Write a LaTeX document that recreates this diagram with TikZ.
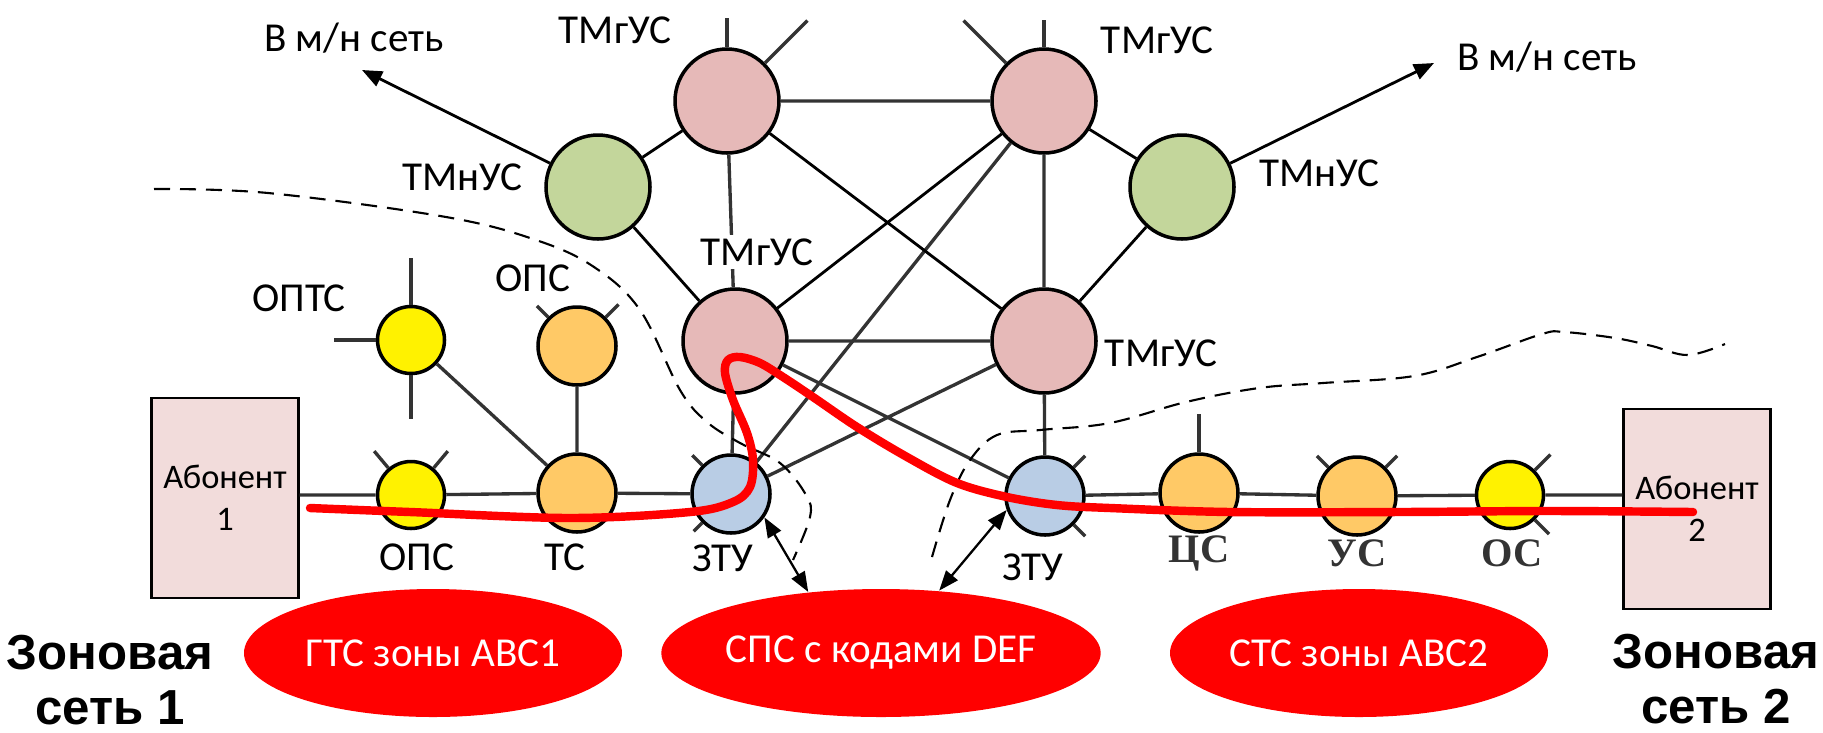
\documentclass[tikz,border=0pt]{standalone}
\usepackage{fontspec}
\setmainfont{Carlito}
\newfontfamily\zonefont{Liberation Sans}
\newfontfamily\scanfont{Liberation Serif}
\usetikzlibrary{shapes.geometric,arrows.meta}
\definecolor{pinkus}{HTML}{E6B9B8}
\definecolor{greenus}{HTML}{C3D69B}
\definecolor{orangeus}{HTML}{FFC966}
\definecolor{blueus}{HTML}{B9CDE5}
\definecolor{boxpink}{HTML}{F2DCDB}
\tikzset{
    st/.style={circle, draw, line width=1pt, inner sep=0pt},
    bignode/.style={st, minimum size=10.4mm},
    midnode/.style={st, minimum size=7.8mm},
    smlnode/.style={st, minimum size=6.7mm},
    scan/.style={black!80, line width=0.95pt},
    wire/.style={black, line width=0.8pt},
    tip/.style={-{Triangle[length=2mm,width=1.6mm]}},
    dbl/.style={{Triangle[length=2mm,width=1.5mm]}-{Triangle[length=2mm,width=1.5mm]}, line width=0.65pt},
    border/.style={dash pattern=on 1.6mm off 1mm, line width=0.6pt},
    zonell/.style={ellipse, fill=red, text=white, minimum width=37.8mm, minimum height=12.8mm, inner sep=0pt},
    abon/.style={draw, fill=boxpink, line width=0.75pt, minimum width=13.8mm, minimum height=20mm,
        align=center, font=\fontsize{9.8}{12}\selectfont},
    oldlbl/.style={font=\scanfont\bfseries\fontsize{11.5}{13}\selectfont, text=black!80},
    zonetxt/.style={align=center, font=\zonefont\bfseries\fontsize{14}{15.6}\selectfont},
}
\begin{document}
\begin{tikzpicture}[x=0.1mm, y=0.1mm, font=\fontsize{11.7}{14}\selectfont]
    \useasboundingbox (0,0) rectangle (1823,-732);
    % upper level
    \node[bignode, fill=pinkus] (pTL) at (727,-101) {};
    \node[bignode, fill=pinkus] (pTR) at (1044,-101) {};
    \node[bignode, fill=pinkus] (pML) at (735,-341) {};
    \node[bignode, fill=pinkus] (pMR) at (1044,-341) {};
    \node[bignode, fill=greenus] (gL) at (598,-187) {};
    \node[bignode, fill=greenus] (gR) at (1182,-187) {};
    \coordinate (mnL) at (362,-70);
    \coordinate (mnR) at (1434,-63);
    % lower level
    \node[smlnode, fill=yellow] (opts) at (411,-340) {};
    \node[midnode, fill=orangeus] (opsU) at (577,-346) {};
    \node[smlnode, fill=yellow] (opsB) at (411,-495) {};
    \node[midnode, fill=orangeus] (ts) at (577,-493) {};
    \node[midnode, fill=blueus] (ztuL) at (731,-494) {};
    \node[midnode, fill=blueus] (ztuR) at (1045,-496) {};
    \node[midnode, fill=orangeus] (cs) at (1199,-493) {};
    \node[midnode, fill=orangeus] (us) at (1357,-496) {};
    \node[smlnode, fill=yellow] (os) at (1510,-495) {};
    \node[abon] (ab1) at (225,-498) {Абонент\\1};
    \node[abon] (ab2) at (1697,-509) {Абонент\\2};
    \node[zonell] (gts) at (433,-653) {ГТС зоны АВС1};
    \node[zonell] (sps) at (881,-653) {СПС с кодами DEF};
    \node[zonell] (sts) at (1359,-653) {СТС зоны АВС2};

    % old scheme lines
    \draw[scan] (pTL) -- (pTR) (pML) -- (pMR) (pTL) -- (pML) (pTR) -- (pMR);
    \draw[scan] (pML) -- (ztuL) (pMR) -- (ztuR) (pTR) -- (ztuL) (pMR) -- (ztuL) (pML) -- (ztuR);
    \draw[scan] (opts) -- (ts) (opsU) -- (ts);
    \draw[scan] (ab1.east |- opsB) -- (opsB) -- (ts) -- (ztuL);
    \draw[scan] (ztuR) -- (cs) -- (us) -- (os) -- (os -| ab2.west);
    \foreach \n/\a/\l in {pTL/90/29, pTL/45/60, pTR/90/27, pTR/135/60,
        opts/90/47, opts/180/42, opts/270/44, opsU/135/16, opsU/45/18,
        opsB/130/22, opsB/50/22, ztuL/135/14, ztuL/225/12, ztuR/45/16, ztuR/-45/16,
        cs/90/38, us/135/16, us/45/16, os/45/22, os/-45/20}
        \draw[scan] (\n.\a) -- ++(\a:\l);

    % new lines
    \draw[wire] (gL) -- (pTL) (gL) -- (pML) (pTL) -- (pMR) (pTR) -- (pML)
        (gR) -- (pTR) (gR) -- (pMR);
    \draw[wire, tip] (gL) -- (mnL);
    \draw[wire, tip] (gR) -- (mnR);

    % zone borders
    \draw[border] plot[smooth, tension=0.6] coordinates {(154,-189) (268,-193) (446,-217)
        (536,-240) (594,-267) (640,-310) (680,-390) (707,-422) (740,-443) (780,-463)
        (806,-495) (810,-517) (793,-560)};
    \draw[border] plot[smooth, tension=0.6] coordinates {(932,-557) (950,-500) (970,-460)
        (997,-435) (1040,-430) (1110,-423) (1186,-402) (1259,-388) (1323,-383) (1414,-376)
        (1477,-357) (1542,-334) (1564,-332) (1615,-338) (1652,-346) (1688,-355) (1725,-344)};

    \draw[dbl] (ztuL.-35) -- (sps.140);
    \draw[dbl] (ztuR.200) -- (sps.47);

    % labels
    \node (lmnL) at (354,-38) {В м/н сеть};
    \node (lmnR) at (1547,-57) {В м/н сеть};
    \node (lTL) at (615,-30) {ТМгУС};
    \node (lTR) at (1157,-40) {ТМгУС};
    \node[fill=white, inner sep=1pt] (lML) at (757,-252) {ТМгУС};
    \node (lMR) at (1161,-353) {ТМгУС};
    \node (lgL) at (462,-177) {ТМнУС};
    \node (lgR) at (1319,-173) {ТМнУС};
    \node (lopts) at (299,-298) {ОПТС};
    \node[fill=white, inner sep=1pt] (lopsU) at (533,-278) {ОПС};
    \node (lopsB) at (417,-557) {ОПС};
    \node (lts) at (565,-557) {ТС};
    \node (lztuL) at (723,-558) {ЗТУ};
    \node (lztuR) at (1033,-567) {ЗТУ};
    \node[oldlbl] (lcs) at (1199,-553) {ЦС};
    \node[oldlbl] (lus) at (1357,-553) {УС};
    \node[oldlbl] (los) at (1512,-553) {ОС};
    \node[zonetxt] (zone1) at (110,-680) {Зоновая\\сеть 1};
    \node[zonetxt] (zone2) at (1716,-679) {Зоновая\\сеть 2};

    % connection path
    \draw[red, line width=2.4pt, line cap=round] plot[smooth, tension=0.55] coordinates {(310,-508)
        (410,-512) (570,-518) (690,-512) (733,-502) (750,-487) (753,-460) (747,-433)
        (733,-400) (725,-373) (728,-360) (740,-357) (760,-363) (783,-377) (813,-397)
        (857,-427) (907,-457) (957,-483) (1007,-497) (1057,-505) (1110,-508) (1230,-512)
        (1400,-512) (1550,-511) (1693,-512)};
\end{tikzpicture}
\end{document}
